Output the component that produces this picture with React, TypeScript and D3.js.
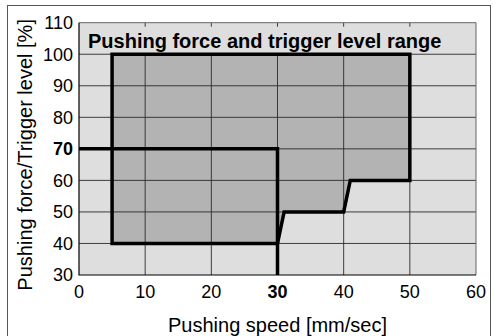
import * as d3 from "d3";
import { useEffect, useRef } from "react";

// axis ticks
const xTicks = [0, 10, 20, 30, 40, 50, 60];
const yTicks = [30, 40, 50, 60, 70, 80, 90, 100, 110];
const boldX = [30];
const boldY = [70];

// pushing force range (speed, level)
const rangeSpeed = [5, 50, 50, 41, 40, 31, 30, 5];
const rangeLevel = [100, 100, 60, 60, 50, 50, 40, 40];

// trigger level limit
const triggerSpeed = [0, 30, 30];
const triggerLevel = [70, 70, 30];

const title = "Pushing force and trigger level range";
const xLabel = "Pushing speed [mm/sec]";
const yLabel = "Pushing force/Trigger level [%]";

export default function App() {
  const svgRef = useRef<SVGSVGElement>(null);
  const width = 494;
  const height = 336;

  useEffect(() => {
    const svg = d3.select(svgRef.current);
    svg.selectAll("*").remove();

    const font = "'Liberation Sans', Arial, Helvetica, sans-serif";
    const x = d3.scaleLinear().domain([0, 60]).range([79, 476]);
    const y = d3.scaleLinear().domain([30, 110]).range([275, 22.7]);

    // outer frame
    svg.append("rect")
      .attr("x", 7.5).attr("y", 5.5)
      .attr("width", 483).attr("height", 340)
      .attr("fill", "#fff").attr("stroke", "#555").attr("stroke-width", 1);

    // plot background
    svg.append("rect")
      .attr("x", x(0)).attr("y", y(110))
      .attr("width", x(60) - x(0)).attr("height", y(30) - y(110))
      .attr("fill", "#dedede");

    // range polygon
    const pts = rangeSpeed.map((s, i) => [x(s), y(rangeLevel[i])] as [number, number]);
    svg.append("path")
      .attr("d", d3.line()(pts) + "Z")
      .attr("fill", "#b3b3b3");

    // grid
    const g = svg.append("g").attr("stroke", "#2a2a2a").attr("stroke-width", 0.9);
    xTicks.slice(1, -1).forEach((t) => {
      g.append("line")
        .attr("x1", x(t)).attr("x2", x(t))
        .attr("y1", y(100)).attr("y2", y(30));
      g.append("line")
        .attr("x1", x(t)).attr("x2", x(t))
        .attr("y1", y(110)).attr("y2", y(110) + 4);
    });
    yTicks.slice(1, -1).forEach((t) => {
      g.append("line")
        .attr("x1", x(0)).attr("x2", x(60))
        .attr("y1", y(t)).attr("y2", y(t));
    });

    // frame of plot
    svg.append("path")
      .attr("d", `M${x(0)},${y(110)}H${x(60)}V${y(30)}`)
      .attr("fill", "none").attr("stroke", "#666").attr("stroke-width", 1);
    svg.append("path")
      .attr("d", `M${x(0)},${y(110)}V${y(30)}H${x(60)}`)
      .attr("fill", "none").attr("stroke", "#000").attr("stroke-width", 1.2);

    // thick outlines
    svg.append("path")
      .attr("d", d3.line()(pts) + "Z")
      .attr("fill", "none").attr("stroke", "#000")
      .attr("stroke-width", 3.5).attr("stroke-linejoin", "miter");
    const tpts = triggerSpeed.map((s, i) => [x(s), y(triggerLevel[i])] as [number, number]);
    svg.append("path")
      .attr("d", d3.line()(tpts))
      .attr("fill", "none").attr("stroke", "#000")
      .attr("stroke-width", 3.5).attr("stroke-linejoin", "miter");

    // title
    svg.append("text")
      .attr("x", 88).attr("y", 48)
      .attr("font-family", font).attr("font-size", 20).attr("font-weight", "bold")
      .attr("fill", "#000")
      .text(title);

    // tick labels
    svg.selectAll("text.xt").data(xTicks).enter().append("text")
      .attr("class", "xt")
      .attr("x", (d) => x(d)).attr("y", 298)
      .attr("text-anchor", "middle")
      .attr("font-family", font).attr("font-size", 18)
      .attr("font-weight", (d) => (boldX.includes(d) ? "bold" : "normal"))
      .text((d) => d);
    svg.selectAll("text.yt").data(yTicks).enter().append("text")
      .attr("class", "yt")
      .attr("x", 73).attr("y", (d) => y(d))
      .attr("dy", "0.35em")
      .attr("text-anchor", "end")
      .attr("font-family", font).attr("font-size", 18)
      .attr("font-weight", (d) => (boldY.includes(d) ? "bold" : "normal"))
      .text((d) => d);

    // axis labels
    svg.append("text")
      .attr("x", (x(0) + x(60)) / 2).attr("y", 332)
      .attr("text-anchor", "middle")
      .attr("font-family", font).attr("font-size", 20)
      .text(xLabel);
    svg.append("text")
      .attr("transform", `translate(32,${(y(30) + y(110)) / 2 + 6}) rotate(-90)`)
      .attr("text-anchor", "middle")
      .attr("font-family", font).attr("font-size", 20)
      .text(yLabel);
  }, []);

  return (
    <div style={{ position: "fixed", left: 0, top: 0, width, height, background: "#fff" }}>
      <svg ref={svgRef} width={width} height={height}></svg>
    </div>
  );
}
